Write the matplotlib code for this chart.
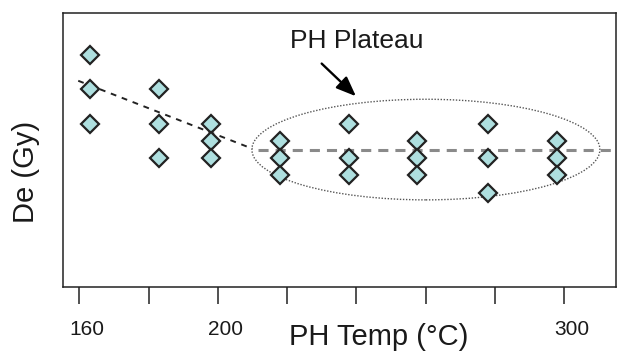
import matplotlib
matplotlib.use("Agg")
import matplotlib.pyplot as plt
from matplotlib.patches import Ellipse
import matplotlib.transforms as mtransforms

# ---- data ----
col_temps = [163, 183, 198, 218, 238, 257.5, 278, 298]
col_de = [
    [22, 20, 18],
    [20, 18, 16],
    [18, 17, 16],
    [17, 16, 15],
    [18, 16, 15],
    [17, 16, 15],
    [18, 16, 14],
    [17, 16, 15],
]
tick_positions = [160, 180, 200, 220, 240, 260, 280, 300]
tick_labels = ["160", "", "200", "", "", "", "", "300"]
trend_temp = [159.7, 210.0]
trend_de = [20.5, 16.55]
plateau_temp = [211.5, 315]
plateau_de = [16.5, 16.5]
ellipse_center = (260.1, 16.5)
ellipse_width = 100.5
ellipse_height = 5.85
arrow_tail = (230.0, 21.5)
arrow_tip = (239.9, 19.6)
label_pos = (240.0, 22.4)
label_text = "PH Plateau"
xlabel_text = "PH Temp (°C)"
ylabel_text = "De (Gy)"

pt_temp = [t for t, ds in zip(col_temps, col_de) for _ in ds]
pt_de = [d for ds in col_de for d in ds]

plt.rcParams['font.family'] = ['Liberation Sans', 'DejaVu Sans']

fig = plt.figure(figsize=(6.17, 3.51), dpi=100)
W, H = 617, 351
ax = fig.add_axes([63 / W, 1 - 287 / H, (616 - 63) / W, (287 - 13) / H])

ax.set_xlim(155.3, 315)
ax.set_ylim(8.51, 24.44)

# trend dashed line
ax.plot(trend_temp, trend_de, color='#222222', lw=1.4, dashes=(3, 3), zorder=2)
# plateau line
ax.plot(plateau_temp, plateau_de, color='#8a8a8a', lw=2.2, dashes=(3.3, 2.3), zorder=2)

# ellipse
ell = Ellipse(ellipse_center, ellipse_width, ellipse_height, fill=False,
              edgecolor='#555555', lw=1.0, linestyle=(0, (1, 1.2)), zorder=1)
ax.add_patch(ell)

# points
ax.plot(pt_temp, pt_de, linestyle='none', marker='D', markersize=9.6,
        markerfacecolor='#aedfdf', markeredgecolor='#222222', markeredgewidth=1.6, zorder=3)

# arrow and label
ax.annotate('', xy=arrow_tip, xytext=arrow_tail,
            arrowprops=dict(arrowstyle='-|>,head_length=0.5,head_width=0.2', color='black', lw=1.7,
                            mutation_scale=24, shrinkA=0, shrinkB=0))
ax.text(label_pos[0], label_pos[1], label_text, ha='center', va='baseline',
        fontsize=19, color='#1a1a1a')

# axes styling
for sp in ax.spines.values():
    sp.set_linewidth(1.1)
    sp.set_color('#222222')
ax.set_yticks([])
ax.set_xticks(tick_positions)
ax.set_xticklabels(tick_labels, fontsize=15, color='#1a1a1a')
ax.tick_params(axis='x', direction='out', length=12.5, width=1.1, color='#222222', pad=11.5)
offset = mtransforms.ScaledTranslation(8 / 100, 0, fig.dpi_scale_trans)
for lab in ax.get_xticklabels():
    lab.set_transform(lab.get_transform() + offset)

fig.text(378.5 / W, 1 - 345 / H, xlabel_text, ha='center', va='baseline',
         fontsize=21, color='#1a1a1a')
fig.text(26 / W, 1 - 171.5 / H, ylabel_text, ha='center', va='center',
         rotation=90, fontsize=21, color='#1a1a1a')

fig.savefig('out.png', dpi=100)
